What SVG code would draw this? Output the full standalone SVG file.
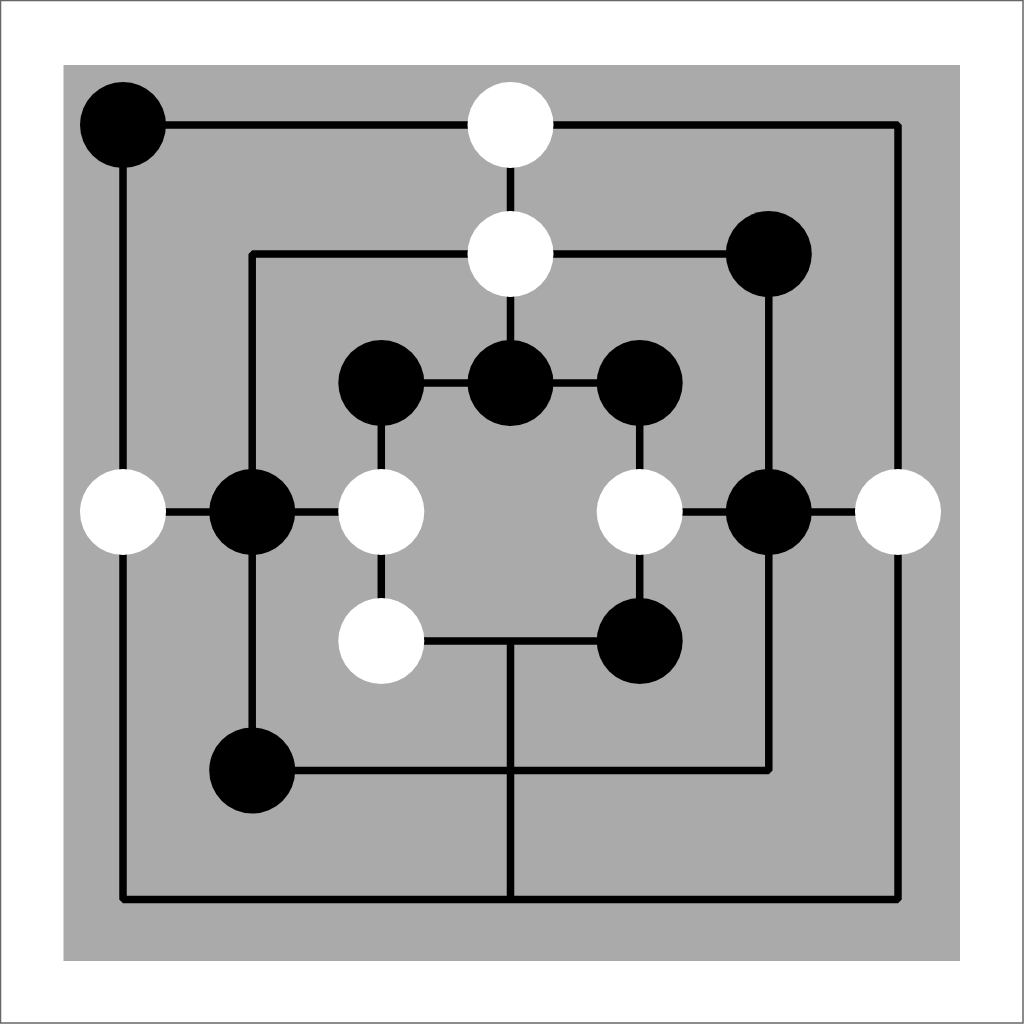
<svg xmlns="http://www.w3.org/2000/svg" width="1024" height="1024" viewBox="0 0 1024 1024">
<style>
.ln{stroke:#000;stroke-width:7.5;fill:none;stroke-linejoin:bevel;stroke-linecap:butt}
.b{fill:#000}
.w{fill:#fff}
</style>
<rect x="0" y="0" width="1024" height="1024" fill="#fff"/>
<rect x="0.5" y="0.5" width="1022.5" height="1022.5" fill="none" stroke="#666" stroke-width="1.5"/>
<rect id="board" x="63.5" y="65" width="896.5" height="896" fill="#aaaaaa"/>
<g id="connectors">
<rect class="ln" x="123" y="125" width="775" height="774.5"/>
<rect class="ln" x="252.2" y="254" width="516.6" height="516.5"/>
<rect class="ln" x="381.3" y="383" width="258.4" height="258"/>
<line class="ln" x1="510.5" y1="125" x2="510.5" y2="383"/>
<line class="ln" x1="510.5" y1="641" x2="510.5" y2="899.5"/>
<line class="ln" x1="123" y1="512" x2="381.3" y2="512"/>
<line class="ln" x1="639.7" y1="512" x2="898" y2="512"/>
</g>
<g id="n-a7"><circle class="b" cx="123" cy="125" r="43"/></g>
<g id="n-d7"><circle class="w" cx="510.5" cy="125" r="43"/></g>
<g id="n-d6"><circle class="w" cx="510.5" cy="254" r="43"/></g>
<g id="n-f6"><circle class="b" cx="768.8" cy="254" r="43"/></g>
<g id="n-c5"><circle class="b" cx="381.3" cy="383" r="43"/></g>
<g id="n-d5"><circle class="b" cx="510.5" cy="383" r="43"/></g>
<g id="n-e5"><circle class="b" cx="639.7" cy="383" r="43"/></g>
<g id="n-a4"><circle class="w" cx="123" cy="512" r="43"/></g>
<g id="n-b4"><circle class="b" cx="252.2" cy="512" r="43"/></g>
<g id="n-c4"><circle class="w" cx="381.3" cy="512" r="43"/></g>
<g id="n-e4"><circle class="w" cx="639.7" cy="512" r="43"/></g>
<g id="n-f4"><circle class="b" cx="768.8" cy="512" r="43"/></g>
<g id="n-g4"><circle class="w" cx="898" cy="512" r="43"/></g>
<g id="n-c3"><circle class="w" cx="381.3" cy="641" r="43"/></g>
<g id="n-e3"><circle class="b" cx="639.7" cy="641" r="43"/></g>
<g id="n-b2"><circle class="b" cx="252.2" cy="770.5" r="43"/></g>
</svg>
